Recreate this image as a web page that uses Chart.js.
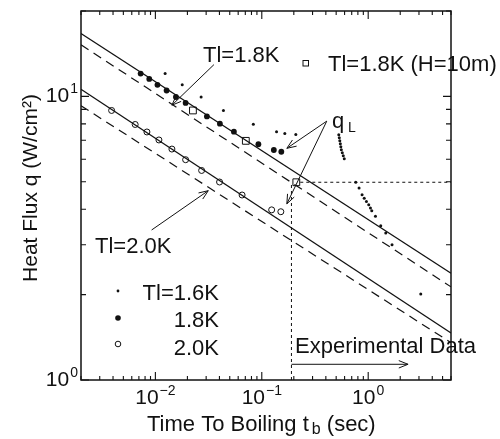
<!DOCTYPE html>
<html>
<head>
<meta charset="utf-8">
<script src="https://cdn.jsdelivr.net/npm/chart.js@4.4.0/dist/chart.umd.min.js"></script>
<style>
  html, body { margin: 0; padding: 0; background: #fff; }
</style>
</head>
<body>
<canvas id="heatChart" width="500" height="439"></canvas>
<script>
// Time to boiling t_b (sec) vs heat flux q (W/cm2)
const t16 = [0.01235, 0.01788, 0.0269, 0.0436, 0.0833, 0.1376, 0.1646, 0.2088,
             0.529, 0.535, 0.541, 0.547, 0.553, 0.559, 0.571, 0.583, 0.596,
             0.764, 0.821, 0.876, 0.918, 0.963, 1.012, 1.050, 1.080, 1.170, 1.312, 1.462, 1.675, 3.12];
const q16 = [12.03, 10.98, 9.94, 8.92, 7.98, 7.51, 7.40, 7.34,
             7.32, 7.15, 6.98, 6.81, 6.64, 6.48, 6.33, 6.17, 6.03,
             4.98, 4.75, 4.50, 4.37, 4.26, 4.15, 4.04, 3.95, 3.78, 3.50, 3.30, 3.00, 2.01];

const t18 = [0.00727, 0.00876, 0.01046, 0.01275, 0.0156, 0.01924, 0.0305, 0.0404, 0.0547, 0.0929, 0.1298, 0.1526];
const q18 = [12.03, 11.52, 10.98, 10.49, 9.95, 9.48, 8.50, 8.01, 7.51, 6.78, 6.47, 6.38];

const t20 = [0.00388, 0.00646, 0.00833, 0.0108, 0.0143, 0.01924, 0.0272, 0.0401, 0.0653, 0.1238, 0.151];
const q20 = [8.92, 7.96, 7.49, 7.02, 6.52, 5.98, 5.48, 4.99, 4.49, 3.98, 3.92];

// Tl=1.8K, H=10m
const tH = [0.02254, 0.0708, 0.2111];
const qH = [8.92, 6.97, 4.98];

// theory lines (ends at the axis limits)
const lineT = [0.002, 6];
const upperSolidQ = [16.65, 2.38];
const upperDashQ = [15.2, 2.13];
const lowerSolidQ = [10.6, 1.465];
const lowerDashQ = [9.27, 1.354];

// dotted guide lines
const guideVertT = [0.19, 0.19];
const guideVertQ = [1, 4.9];
const guideHorT = [0.23, 6];
const guideHorQ = [4.98, 4.98];

// arrows [from, to] as [t, q]
const arrow18 = [[0.0355, 12.94], [0.0143, 9.31]];
const arrow20 = [[0.00922, 3.38], [0.0314, 4.65]];
const arrowQL1 = [[0.408, 8.18], [0.172, 6.56]];
const arrowQL2 = [[0.408, 8.18], [0.172, 4.18]];
const arrowExp = [[0.19, 1.136], [2.37, 1.136]];

// axis ticks
const xMajor = [0.01, 0.1, 1];
const xExp = ['\u22122', '\u22121', '0'];
const yMajor = [1, 10];
const yExp = ['0', '1'];

const FONT = '"Liberation Sans", Arial, sans-serif';
const INK = '#111';

function pts(ts, qs) {
    return ts.map((t, i) => ({ x: t, y: qs[i] }));
}

function lineSet(ts, qs, dash, width) {
    return {
        data: pts(ts, qs),
        showLine: true,
        borderColor: INK,
        borderWidth: width || 1.2,
        borderDash: dash || [],
        pointRadius: 0,
        fill: false
    };
}

function drawArrow(ctx, chart, a) {
    const xs = chart.scales.x, ys = chart.scales.y;
    const x1 = xs.getPixelForValue(a[0][0]), y1 = ys.getPixelForValue(a[0][1]);
    const x2 = xs.getPixelForValue(a[1][0]), y2 = ys.getPixelForValue(a[1][1]);
    const ang = Math.atan2(y2 - y1, x2 - x1);
    ctx.beginPath();
    ctx.moveTo(x1, y1);
    ctx.lineTo(x2, y2);
    ctx.moveTo(x2 - 10 * Math.cos(ang - 0.38), y2 - 10 * Math.sin(ang - 0.38));
    ctx.lineTo(x2, y2);
    ctx.lineTo(x2 - 10 * Math.cos(ang + 0.38), y2 - 10 * Math.sin(ang + 0.38));
    ctx.stroke();
}

function pow10(ctx, exp, x, y, align) {
    ctx.font = '21px ' + FONT;
    const wb = ctx.measureText('10').width;
    ctx.font = '14px ' + FONT;
    const we = ctx.measureText(exp).width;
    const left = align === 'right' ? x - wb - we - 1 : x - (wb + we + 1) / 2;
    ctx.textAlign = 'left';
    ctx.font = '21px ' + FONT;
    ctx.fillText('10', left, y);
    ctx.font = '14px ' + FONT;
    ctx.fillText(exp, left + wb + 1, y - 9);
}

const decorations = {
    id: 'decorations',
    afterDraw(chart) {
        const ctx = chart.ctx;
        const a = chart.chartArea;
        const xs = chart.scales.x, ys = chart.scales.y;
        ctx.save();
        ctx.strokeStyle = INK;
        ctx.fillStyle = INK;
        ctx.lineWidth = 1.5;
        ctx.setLineDash([]);
        ctx.strokeRect(a.left, a.top, a.right - a.left, a.bottom - a.top);

        // ticks on all four sides, pointing inward
        ctx.lineWidth = 1.1;
        ctx.beginPath();
        for (let d = 0.001; d <= 1; d *= 10) {
            for (let m = 1; m <= 9; m++) {
                const v = d * m;
                if (v < 0.002 - 1e-9 || v > 6 + 1e-9) continue;
                const len = m === 1 ? 8 : 4;
                const px = xs.getPixelForValue(v);
                ctx.moveTo(px, a.bottom); ctx.lineTo(px, a.bottom - len);
                ctx.moveTo(px, a.top); ctx.lineTo(px, a.top + len);
            }
        }
        for (let d = 1; d <= 10; d *= 10) {
            for (let m = 1; m <= 9; m++) {
                const v = d * m;
                if (v > 20 + 1e-9) continue;
                const len = m === 1 ? 8 : 5;
                const py = ys.getPixelForValue(v);
                ctx.moveTo(a.left, py); ctx.lineTo(a.left + len, py);
                ctx.moveTo(a.right, py); ctx.lineTo(a.right - len, py);
            }
        }
        ctx.stroke();

        // tick labels
        ctx.textBaseline = 'alphabetic';
        xMajor.forEach((v, i) => pow10(ctx, xExp[i], xs.getPixelForValue(v), 404, 'center'));
        yMajor.forEach((v, i) => pow10(ctx, yExp[i], 78, ys.getPixelForValue(v) + 6, 'right'));

        // axis titles
        ctx.font = '22px ' + FONT;
        ctx.textAlign = 'left';
        const title = 'Time To Boiling t';
        const tw = ctx.measureText(title).width;
        ctx.fillText(title, 147, 431);
        ctx.font = '16px ' + FONT;
        ctx.fillText('b', 147 + tw + 3, 434);
        ctx.font = '22px ' + FONT;
        ctx.fillText('(sec)', 147 + tw + 18, 431);

        ctx.save();
        ctx.translate(31, 188);
        ctx.rotate(-Math.PI / 2);
        ctx.textAlign = 'center';
        ctx.textBaseline = 'middle';
        ctx.font = '21px ' + FONT;
        ctx.fillText('Heat Flux q (W/cm\u00B2)', 0, 0);
        ctx.restore();

        // arrows
        ctx.lineWidth = 1;
        [arrow18, arrow20, arrowQL1, arrowQL2, arrowExp].forEach(ar => drawArrow(ctx, chart, ar));

        // in-plot labels
        ctx.textAlign = 'left';
        ctx.font = '22px ' + FONT;
        ctx.fillText('Tl=1.8K', 203, 62);
        ctx.fillText('Tl=1.8K (H=10m)', 328, 71);
        ctx.fillText('Tl=2.0K', 95, 253);
        ctx.fillText('q', 332, 128);
        ctx.font = '14px ' + FONT;
        ctx.fillText('L', 348, 132);
        ctx.font = '22px ' + FONT;
        ctx.fillText('Experimental Data', 295, 353);

        ctx.textAlign = 'right';
        ctx.fillText('Tl=1.6K', 219, 300);
        ctx.fillText('1.8K', 219, 327);
        ctx.fillText('2.0K', 219, 355);

        // legend markers
        ctx.beginPath(); ctx.arc(118, 291, 1.4, 0, Math.PI * 2); ctx.fill();
        ctx.beginPath(); ctx.arc(118, 318, 2.8, 0, Math.PI * 2); ctx.fill();
        ctx.fillStyle = '#fff';
        ctx.lineWidth = 1;
        ctx.beginPath(); ctx.arc(118, 344, 2.8, 0, Math.PI * 2); ctx.fill(); ctx.stroke();
        ctx.fillRect(303, 60.5, 5.5, 5.5); ctx.strokeRect(303, 60.5, 5.5, 5.5);
        ctx.restore();
    }
};

const ctx = document.getElementById('heatChart').getContext('2d');
const chart = new Chart(ctx, {
    type: 'scatter',
    data: {
        datasets: [
            lineSet(lineT, upperSolidQ),
            lineSet(lineT, upperDashQ, [9, 6]),
            lineSet(lineT, lowerSolidQ),
            lineSet(lineT, lowerDashQ, [9, 6]),
            lineSet(guideVertT, guideVertQ, [3, 3], 1),
            lineSet(guideHorT, guideHorQ, [3, 3], 1),
            {
                label: 'Tl=1.6K',
                data: pts(t16, q16),
                pointRadius: 1.5,
                pointBackgroundColor: INK,
                pointBorderWidth: 0
            },
            {
                label: '1.8K',
                data: pts(t18, q18),
                pointRadius: 2.9,
                pointBackgroundColor: INK,
                pointBorderWidth: 0
            },
            {
                label: '2.0K',
                data: pts(t20, q20),
                pointRadius: 3,
                pointBackgroundColor: '#fff',
                pointBorderColor: INK,
                pointBorderWidth: 1
            },
            {
                label: 'Tl=1.8K (H=10m)',
                data: pts(tH, qH),
                pointStyle: 'rect',
                pointRadius: 4.8,
                pointBackgroundColor: '#fff',
                pointBorderColor: INK,
                pointBorderWidth: 1
            }
        ]
    },
    options: {
        responsive: false,
        animation: false,
        devicePixelRatio: 1,
        layout: { padding: { left: 81, top: 11, right: 49, bottom: 59 } },
        scales: {
            x: { type: 'logarithmic', min: 0.002, max: 6, display: false },
            y: { type: 'logarithmic', min: 1, max: 20, display: false }
        },
        plugins: {
            legend: { display: false },
            tooltip: { enabled: false }
        }
    },
    plugins: [decorations]
});
</script>
</body>
</html>
